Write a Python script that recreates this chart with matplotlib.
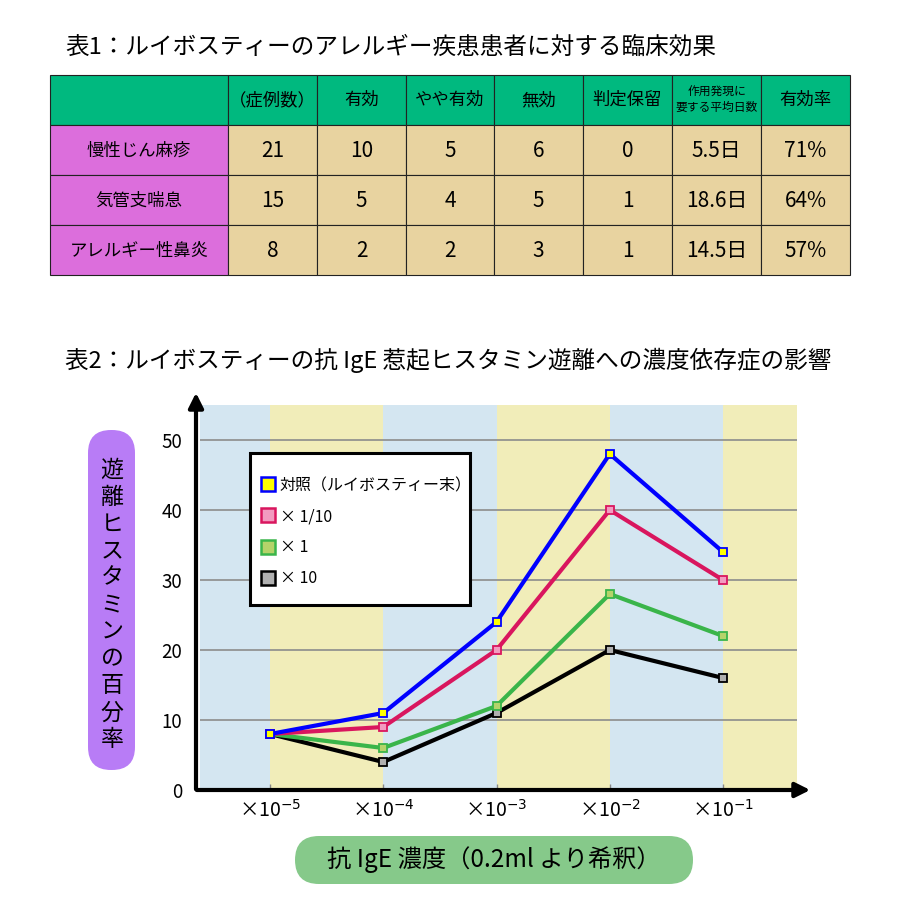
import matplotlib.pyplot as plt
from matplotlib.patches import Rectangle, FancyBboxPatch
from matplotlib.lines import Line2D

plt.rcParams['font.family'] = ['Noto Sans CJK JP', 'DejaVu Sans']
plt.rcParams['mathtext.fontset'] = 'dejavusans'

# 表1 のデータ
title1 = '表1：ルイボスティーのアレルギー疾患患者に対する臨床効果'
col_headers = ['', '（症例数）', '有効', 'やや有効', '無効', '判定保留', '作用発現に\n要する平均日数', '有効率']
row_labels = ['慢性じん麻疹', '気管支喘息', 'アレルギー性鼻炎']
cases = [21, 15, 8]
effective = [10, 5, 2]
somewhat = [5, 4, 2]
ineffective = [6, 5, 3]
pending = [0, 1, 1]
onset_days = [5.5, 18.6, 14.5]
rate = [71, 64, 57]

# 表2 のデータ
title2 = '表2：ルイボスティーの抗 IgE 惹起ヒスタミン遊離への濃度依存症の影響'
conc_labels = ['×10$^{-5}$', '×10$^{-4}$', '×10$^{-3}$', '×10$^{-2}$', '×10$^{-1}$']
control = [8, 11, 24, 48, 34]
dose_1_10 = [8, 9, 20, 40, 30]
dose_1 = [8, 6, 12, 28, 22]
dose_10 = [8, 4, 11, 20, 16]
series_labels = ['対照（ルイボスティー末）', '× 1/10', '× 1', '× 10']
y_label = '遊離ヒスタミンの百分率'
x_label = '抗 IgE 濃度（0.2ml より希釈）'

W = H = 900
fig = plt.figure(figsize=(9, 9), dpi=100)

# ピクセル座標のオーバーレイ
ov = fig.add_axes([0, 0, 1, 1], zorder=5)
ov.set_xlim(0, W)
ov.set_ylim(H, 0)
ov.axis('off')
ov.patch.set_alpha(0)

# ---- 表1 ----
ov.text(65, 47, title1, fontsize=17, va='center', ha='left')

col_x = [50, 228, 317, 406, 494, 583, 672, 761, 850]
row_y = [75, 125, 175, 225, 275]
c_head = '#00B97F'
c_label = '#DC6EDC'
c_cell = '#E8D3A0'

rows = []
for i in range(len(row_labels)):
    rows.append([row_labels[i], str(cases[i]), str(effective[i]), str(somewhat[i]),
                 str(ineffective[i]), str(pending[i]), f'{onset_days[i]}日', f'{rate[i]}%'])

for j, h in enumerate(col_headers):
    x0, x1 = col_x[j], col_x[j + 1]
    ov.add_patch(Rectangle((x0, row_y[0]), x1 - x0, row_y[1] - row_y[0],
                           facecolor=c_head, edgecolor='#222222', lw=0.8))
    fs = 8.5 if '\n' in h else 12.5
    ov.text((x0 + x1) / 2, (row_y[0] + row_y[1]) / 2, h, fontsize=fs,
            ha='center', va='center', linespacing=1.2)

for i, r in enumerate(rows):
    for j, val in enumerate(r):
        x0, x1 = col_x[j], col_x[j + 1]
        fc = c_label if j == 0 else c_cell
        ov.add_patch(Rectangle((x0, row_y[i + 1]), x1 - x0, row_y[i + 2] - row_y[i + 1],
                               facecolor=fc, edgecolor='#222222', lw=0.8))
        fs = 12.5 if j == 0 else 15
        ov.text((x0 + x1) / 2, (row_y[i + 1] + row_y[i + 2]) / 2 + 1, val, fontsize=fs,
                ha='center', va='center')

# ---- 表2 ----
ov.text(65, 360, title2, fontsize=17, va='center', ha='left')

# グラフ本体 (x: 200-797px, y: 405-790px)
ax = fig.add_axes([200 / W, 1 - 790 / H, 597 / W, 385 / H])
step = 113.25
ax.set_xlim(-70 / step, 4 + 74 / step)
ax.set_ylim(0, 55)
for s in ax.spines.values():
    s.set_visible(False)

band_cols = ['#D4E6F1', '#F1EDB9']
edges = [ax.get_xlim()[0], 0, 1, 2, 3, 4, ax.get_xlim()[1]]
for k in range(len(edges) - 1):
    ax.axvspan(edges[k], edges[k + 1], color=band_cols[k % 2], lw=0, zorder=0)

for v in [10, 20, 30, 40, 50]:
    ax.axhline(v, color='#8C8C8C', lw=1.2, zorder=1)

xs = list(range(len(conc_labels)))
styles = [
    (dose_10, 'black', '#B0B0B0', series_labels[3]),
    (dose_1, '#3AB54A', '#B5D36A', series_labels[2]),
    (dose_1_10, '#D9165E', '#F29BC0', series_labels[1]),
    (control, '#0000FF', '#FFFF00', series_labels[0]),
]
for vals, lc, fc, lab in styles:
    ax.plot(xs, vals, color=lc, lw=3, marker='s', markersize=5.5,
            markerfacecolor=fc, markeredgecolor=lc, markeredgewidth=1.3, zorder=3)

ax.set_xticks(xs)
ax.set_xticklabels(conc_labels, fontsize=14)
ax.set_yticks([0, 10, 20, 30, 40, 50])
ax.set_yticklabels(['0', '10', '20', '30', '40', '50'], fontsize=13.5)
ax.tick_params(axis='x', direction='in', length=4, width=1, color='#888888', pad=7)
ax.tick_params(axis='y', length=0, pad=13)

# 凡例 (枠は別に描く)
ov.add_patch(Rectangle((250, 453), 220, 152, facecolor='white',
                       edgecolor='black', lw=2.2, zorder=1))
handles = [Line2D([], [], ls='none', marker='s', markersize=9.5,
                  markerfacecolor=fc, markeredgecolor=lc, markeredgewidth=1.8)
           for vals, lc, fc, lab in styles[::-1]]
leg = ov.legend(handles, series_labels, loc='upper left',
                bbox_to_anchor=(262 / W, 1 - 477 / H), bbox_transform=fig.transFigure,
                fontsize=11.5, frameon=False, borderpad=0, labelspacing=0.88,
                handlelength=0.8, handletextpad=0.3, borderaxespad=0)
leg.set_zorder(2)

# 軸の矢印
ov.annotate('', xy=(813, 790), xytext=(194, 790),
            arrowprops=dict(arrowstyle='-|>', lw=3, color='black', mutation_scale=22))
ov.annotate('', xy=(196, 390), xytext=(196, 792),
            arrowprops=dict(arrowstyle='-|>', lw=3, color='black', mutation_scale=22))

# 縦軸ラベル
ov.add_patch(FancyBboxPatch((88, 430), 47, 340,
                            boxstyle='round,pad=0,rounding_size=23',
                            facecolor='#B87CF6', edgecolor='none'))
for k, ch in enumerate(y_label):
    ov.text(112, 470 + k * 27, ch, fontsize=16.5, ha='center', va='center')

# 横軸ラベル
ov.add_patch(FancyBboxPatch((295, 836), 398, 48,
                            boxstyle='round,pad=0,rounding_size=24',
                            facecolor='#86C98A', edgecolor='none'))
ov.text(494, 860, x_label, fontsize=17.5, ha='center', va='center')

fig.savefig('out.png', dpi=100)
